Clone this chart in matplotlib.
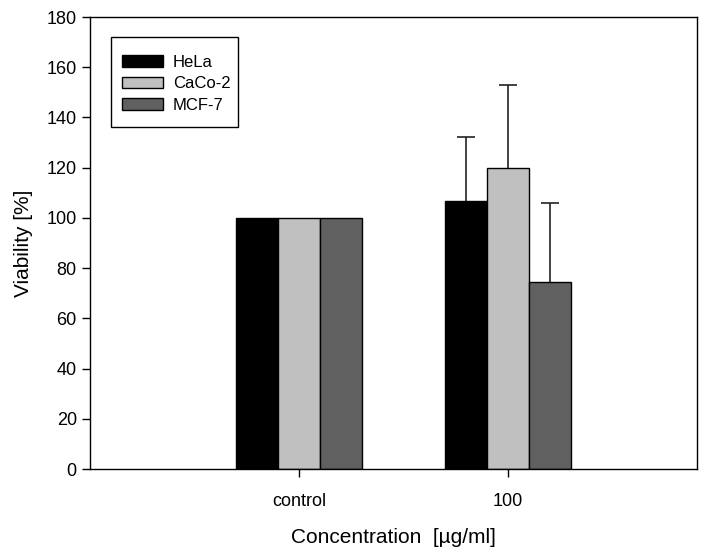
import matplotlib
matplotlib.use("Agg")
import matplotlib.pyplot as plt
from matplotlib.patches import Rectangle
import numpy as np

plt.rcParams['font.family'] = ['Liberation Sans', 'DejaVu Sans']

categories = ["control", "100"]
series = ["HeLa", "CaCo-2", "MCF-7"]
values = {
    "HeLa": [100, 106.7],
    "CaCo-2": [100, 120.0],
    "MCF-7": [100, 74.5],
}
errors = {
    "HeLa": [0, 25.5],
    "CaCo-2": [0, 33.0],
    "MCF-7": [0, 31.5],
}
colors = {"HeLa": "#000000", "CaCo-2": "#c0c0c0", "MCF-7": "#606060"}

fig = plt.figure(figsize=(7.1, 5.53), dpi=100)
ax = fig.add_axes([90/710, 84/553, 607/710, 452/553])

x = np.arange(len(categories))
w = 0.2
for i, s in enumerate(series):
    pos = x + (i - 1) * w
    ax.bar(pos, values[s], width=w, color=colors[s], edgecolor="black",
           linewidth=1.0, label=s, zorder=2)
    err = np.array(errors[s])
    mask = err > 0
    _, caps, _ = ax.errorbar(pos[mask], np.array(values[s])[mask],
                             yerr=[np.zeros(mask.sum()), err[mask]],
                             fmt="none", ecolor="#222222", elinewidth=1.2,
                             capsize=6.5, capthick=1.2, zorder=1)
    # keep only the upper cap
    if len(caps) == 2:
        caps[0].set_visible(False)

ax.set_xlim(-1.0, 1.905)
ax.set_ylim(0, 180)
ax.set_yticks(np.arange(0, 181, 20))
ax.set_xticks(x)
ax.set_xticklabels(categories)
ax.tick_params(axis="both", direction="out", length=6, width=1, labelsize=13)
ax.tick_params(axis="y", pad=3.5)
ax.tick_params(axis="x", pad=11)
for sp in ax.spines.values():
    sp.set_linewidth(1.0)
ax.set_ylabel("Viability [%]", fontsize=15, labelpad=10)
ax.set_xlabel("Concentration  [µg/ml]", fontsize=15, labelpad=13)

# legend frame drawn as a rectangle in axes coordinates
ax.add_patch(Rectangle((21/607, 1 - 110/452), 127/607, 90/452,
                       transform=ax.transAxes, facecolor="white",
                       edgecolor="black", linewidth=1.0, zorder=5,
                       clip_on=False))
leg = ax.legend(loc="upper left", bbox_to_anchor=(32/607, 1 - 38/452),
                fontsize=12, frameon=False,
                handlelength=2.46, handleheight=0.72, borderpad=0,
                labelspacing=0.38, handletextpad=0.6, borderaxespad=0)
leg.set_zorder(6)

fig.savefig("out.png", dpi=100)
